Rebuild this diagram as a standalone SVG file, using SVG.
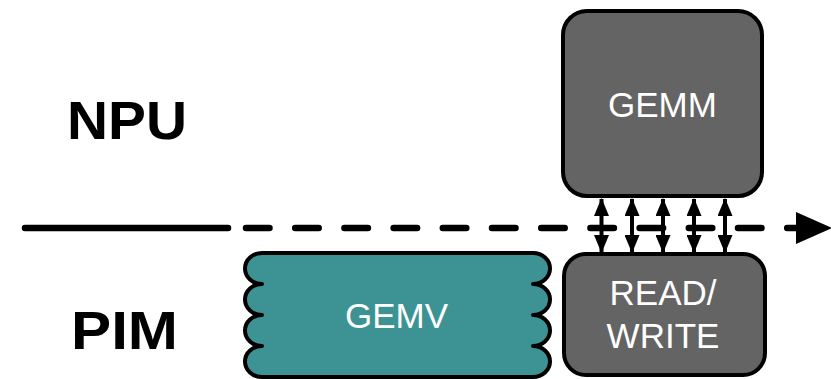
<svg xmlns="http://www.w3.org/2000/svg" width="831" height="379" viewBox="0 0 831 379">
  <style>
    .label { font-family: "Liberation Sans", Arial, sans-serif; font-weight: bold; font-size: 53px; fill: #000; }
    .box-text { font-family: "Liberation Sans", Arial, sans-serif; font-size: 35px; fill: #fff; text-anchor: middle; }
    .unit { fill: #646464; stroke: #000; stroke-width: 4; }
    .bank { fill: #3d9393; stroke: #000; stroke-width: 4; stroke-linejoin: round; }
    .link { stroke: #000; stroke-width: 4; fill: none; }
    .boundary { stroke: #000; stroke-width: 6.5; stroke-linecap: round; fill: none; }
  </style>
  <defs>
    <marker id="tip" viewBox="0 0 18 15" refX="17" refY="7.5" markerWidth="18" markerHeight="15" markerUnits="userSpaceOnUse" orient="auto-start-reverse">
      <path d="M0,0 L18,7.5 L0,15 Z" fill="#000"/>
    </marker>
    <marker id="bigtip" viewBox="0 0 36 32" refX="1" refY="16" markerWidth="36" markerHeight="32" markerUnits="userSpaceOnUse" orient="auto">
      <path d="M0,0 L36,16 L0,32 Z" fill="#000"/>
    </marker>
  </defs>

  <!-- row labels -->
  <text class="label" x="67" y="139" textLength="120" lengthAdjust="spacingAndGlyphs">NPU</text>
  <text class="label" x="71" y="349" textLength="107" lengthAdjust="spacingAndGlyphs">PIM</text>

  <!-- NPU / PIM boundary with timeline arrow -->
  <g id="boundary">
    <line class="boundary" x1="25" y1="228" x2="228" y2="228"/>
    <line class="boundary" x1="246" y1="228" x2="797" y2="228" stroke-dasharray="23.5 25.7" stroke-linecap="round" marker-end="url(#bigtip)"/>
  </g>

  <g id="gemm">
    <rect class="unit" x="563" y="11" width="199" height="185" rx="24"/>
    <text class="box-text" x="662.5" y="116.5">GEMM</text>
  </g>

  <g id="gemv">
    <path class="bank" d="M262,253 H533 A17,15.5 0 0 1 533,284 A17,15.5 0 0 1 533,315 A17,15.5 0 0 1 533,346 A17,15.5 0 0 1 533,377 H262 A17,15.5 0 0 1 262,346 A17,15.5 0 0 1 262,315 A17,15.5 0 0 1 262,284 A17,15.5 0 0 1 262,253 Z"/>
    <text class="box-text" x="396.5" y="328">GEMV</text>
  </g>

  <g id="read-write">
    <rect class="unit" x="564" y="254" width="201" height="121" rx="22"/>
    <text class="box-text" x="663" y="305">READ/</text>
    <text class="box-text" x="663" y="348">WRITE</text>
  </g>

  <!-- data transfers between GEMM and READ/WRITE -->
  <g id="connectors">
    <line class="link" x1="601.5" y1="199" x2="601.5" y2="252" marker-start="url(#tip)" marker-end="url(#tip)"/>
    <line class="link" x1="632" y1="199" x2="632" y2="252" marker-start="url(#tip)" marker-end="url(#tip)"/>
    <line class="link" x1="663" y1="199" x2="663" y2="252" marker-start="url(#tip)" marker-end="url(#tip)"/>
    <line class="link" x1="694" y1="199" x2="694" y2="252" marker-start="url(#tip)" marker-end="url(#tip)"/>
    <line class="link" x1="725" y1="199" x2="725" y2="252" marker-start="url(#tip)" marker-end="url(#tip)"/>
  </g>
</svg>
